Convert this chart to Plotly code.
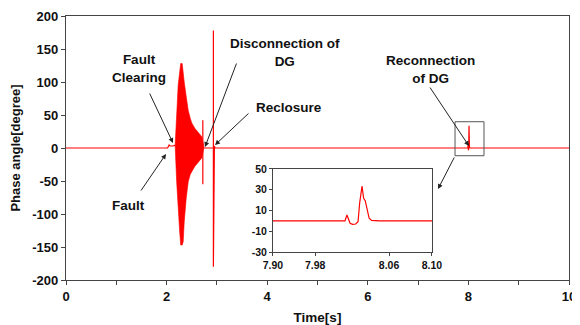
import plotly.graph_objects as go

# ---------------- data ----------------
# baseline before the fault / fault step
t_pre = [0.0, 2.02, 2.05, 2.07, 2.12, 2.17]
v_pre = [0.0, 0.0, 4.5, 3.0, 3.0, 4.0]

# oscillation burst after the fault (upper / lower envelope)
burst_t  = [2.17, 2.20, 2.23, 2.26, 2.28, 2.31, 2.33, 2.35, 2.39, 2.43, 2.47, 2.50, 2.56, 2.63, 2.70, 2.74]
burst_hi = [4, 55, 95, 115, 128, 128, 112, 100, 78, 57, 45, 38, 30, 23, 17, 3]
burst_lo = [4, -51, -96, -127, -147, -147, -142, -112, -76, -51, -40, -36, -28, -21, -15, 0]

# spike during the burst (disconnection of DG)
spike_t = [2.72, 2.72]
spike_v = [42, -55]

# after the burst, including reclosure jump
t_post = [2.74, 2.93, 2.93, 2.93, 2.95, 2.96, 7.90]
v_post = [0, 0, 178, -180, 3, 0, 0]

# reconnection of DG (also shown in the inset)
inset_t = [7.90, 7.9906, 7.993, 7.997, 8.000, 8.004, 8.007, 8.009, 8.012, 8.014,
           8.016, 8.019, 8.021, 8.024, 8.030, 8.034, 8.10]
inset_v = [0, 0, 5.7, -2.3, -3.3, -3.0, -0.8, 17, 33.6, 21.7,
           19.5, 10.5, 2.5, 0.5, 0.2, 0, 0]

t_end = [8.10, 10.0]
v_end = [0, 0]

x_ticks = [0, 2, 4, 6, 8, 10]
y_ticks = [-200, -150, -100, -50, 0, 50, 100, 150, 200]
y_tick_text = ["-200", "-150", "-100", "-50", "0", "50", "100", "150", "200"]
inset_y_ticks = [-30, -10, 10, 30, 50]
inset_y_tick_text = ["-30", "-10", "10", "30", "50"]
inset_x_tick_pos = [7.90, 7.953, 8.046, 8.10]
inset_x_tick_text = ["7.90", "7.98", "8.06", "8.10"]

RED = "#ff0000"
AX = "#444444"
FONT = "Liberation Sans, Arial, sans-serif"

fig = go.Figure()

fig.add_trace(go.Scatter(x=t_pre, y=v_pre, mode="lines",
                         line=dict(color=RED, width=1.2), showlegend=False))
fig.add_trace(go.Scatter(x=burst_t + burst_t[::-1], y=burst_hi + burst_lo[::-1],
                         mode="lines", fill="toself", fillcolor=RED,
                         line=dict(color=RED, width=0.6), showlegend=False))
fig.add_trace(go.Scatter(x=spike_t, y=spike_v, mode="lines",
                         line=dict(color=RED, width=1.2), showlegend=False))
fig.add_trace(go.Scatter(x=t_post + inset_t + t_end, y=v_post + inset_v + v_end,
                         mode="lines", line=dict(color=RED, width=1.2), showlegend=False))

# inset
fig.add_trace(go.Scatter(x=inset_t, y=inset_v, mode="lines", xaxis="x2", yaxis="y2",
                         line=dict(color=RED, width=1.2), showlegend=False))

tickfont = dict(family=FONT, size=13, color="#111111", weight="bold")
small = dict(family=FONT, size=10.5, color="#111111", weight="bold")

# the page body has an 8px margin, so the figure is offset by 8px
fig.update_layout(
    width=572, height=317,
    margin=dict(l=58, r=11, t=8, b=45, autoexpand=False),
    paper_bgcolor="white", plot_bgcolor="white",
    font=dict(family=FONT),
    xaxis=dict(range=[0, 10], tickvals=x_ticks, ticks="outside", ticklen=4,
               tickcolor=AX, showline=True, linecolor=AX, linewidth=1.2, mirror=True,
               showgrid=False, zeroline=False, tickfont=tickfont, automargin=False,
               minor=dict(dtick=1, ticks="outside", ticklen=4, tickcolor=AX),
               title=dict(text="Time[s]", font=dict(family=FONT, size=13.5, color="#111111", weight="bold"),
                          standoff=12)),
    yaxis=dict(range=[-200, 200], tickvals=y_ticks, ticktext=y_tick_text, ticks="outside", ticklen=4,
               tickcolor=AX, showline=True, linecolor=AX, linewidth=1.2, mirror=True,
               showgrid=False, zeroline=False, tickfont=tickfont, automargin=False,
               title=dict(text="Phase angle[degree]", font=dict(family=FONT, size=13, color="#111111", weight="bold"),
                          standoff=10)),
    xaxis2=dict(domain=[0.4115, 0.7276], anchor="y2", range=[7.90, 8.10],
                tickvals=inset_x_tick_pos, ticktext=inset_x_tick_text, automargin=False,
                ticks="outside", ticklen=3, tickcolor=AX, showline=True, linecolor=AX,
                linewidth=1, mirror=True, showgrid=False, zeroline=False, tickfont=small),
    yaxis2=dict(domain=[0.106, 0.4205], anchor="x2", range=[-30, 50], automargin=False,
                tickvals=inset_y_ticks, ticktext=inset_y_tick_text, ticks="outside", ticklen=3, tickcolor=AX,
                showline=True, linecolor=AX, linewidth=1, mirror=True, showgrid=False,
                zeroline=False, tickfont=small),
)

# zoom box around reconnection
fig.add_shape(type="rect", xref="x", yref="y", x0=7.734, x1=8.31, y0=-11.7, y1=39.8,
              line=dict(color="#555555", width=1))

afont = dict(family=FONT, size=13.5, color="#111111", weight="bold")
texts = [
    ("Fault<br>Clearing", 1.46, 120),
    ("Fault", 1.25, -86.4),
    ("Disconnection of<br>DG", 4.354, 144.7),
    ("Reclosure", 4.443, 62.1),
    ("Reconnection<br>of DG", 7.237, 118.2),
]
for txt, x, y in texts:
    fig.add_annotation(x=x, y=y, xref="x", yref="y", text=txt, showarrow=False,
                       font=afont, align="center")

arrows = [
    (1.65, 84.8, 2.127, 7.6),
    (1.471, -66.7, 1.988, -9.1),
    (3.40, 130.3, 2.763, 1.5),
    (3.658, 54.5, 2.962, 4.5),
    (7.217, 93.9, 8.012, 3.0),
    (7.734, -12.1, 7.396, -62.1),
]
for ax_, ay_, x, y in arrows:
    fig.add_annotation(x=x, y=y, ax=ax_, ay=ay_, xref="x", yref="y", axref="x", ayref="y",
                       text="", showarrow=True, arrowhead=2, arrowsize=1, arrowwidth=1,
                       arrowcolor="#222222", standoff=0, startstandoff=0)

fig.write_html("out.html")
